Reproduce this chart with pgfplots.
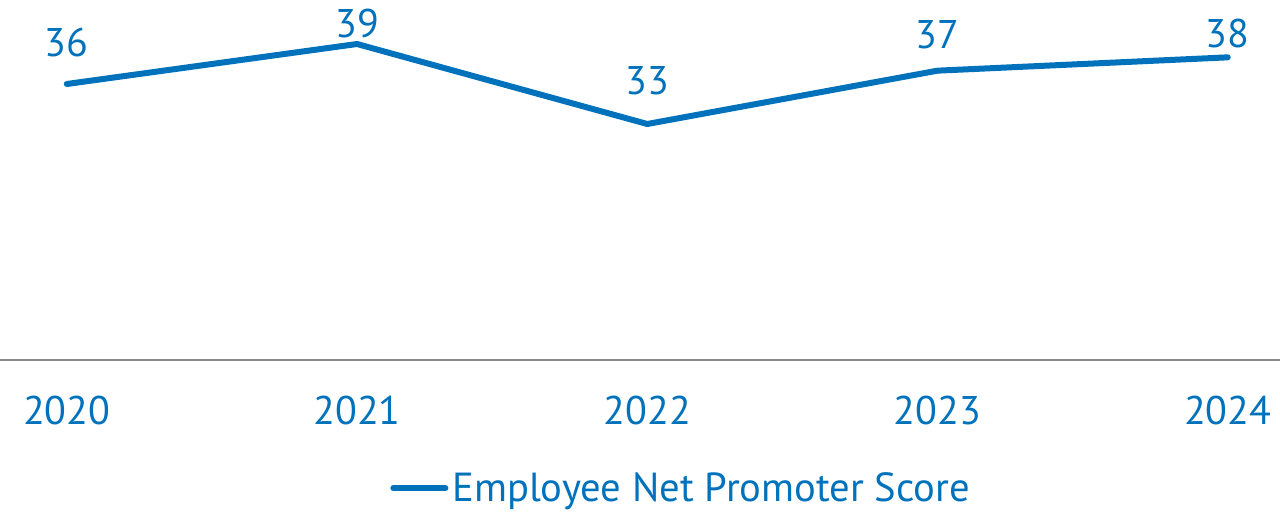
\documentclass[border=0pt]{standalone}
\usepackage{pgfplots}
\pgfplotsset{compat=1.18}
\usepackage{fontspec}
\setmainfont{PT Sans}
\definecolor{nps}{HTML}{0072BC}
\definecolor{base}{HTML}{8A8A8A}
\pgfplotsset{npsleg/.style={legend image code/.code={\draw[#1] (0pt,0pt) -- (26pt,0pt);}}}
\begin{document}
\begin{tikzpicture}
\begin{axis}[
  at={(0pt,0pt)}, anchor=south west,
  scale only axis,
  width=640pt, height=180pt,
  xmin=-0.23, xmax=4.18,
  ymin=15.3, ymax=42.3,
  axis y line=none,
  axis x line*=bottom,
  x axis line style={draw=base, line width=1pt, -},
  xtick={0,1,2,3,4},
  xticklabels={2020,2021,2022,2023,2024},
  major tick length=0pt,
  xticklabel style={font=\fontsize{20}{24}\selectfont, text=nps, anchor=base, yshift=-32pt},
  clip=false,
  /pgf/number format/assume math mode=true,
  legend style={at={(0.533,-0.356)}, anchor=center, draw=none, fill=none,
    font=\fontsize{20.3}{24}\selectfont, text=nps,
    /tikz/every even column/.append style={column sep=0pt}},
  legend cell align=left,
]
\addplot[color=nps, line width=3pt, line cap=round, line join=round, mark=none, npsleg,
  nodes near coords,
  visualization depends on={value \thisrow{dy} \as \labdy},
  every node near coord/.append style={font=\fontsize{20}{24}\selectfont, text=nps, anchor=base, yshift=\labdy pt}]
  table[x=x, y=y] {
x y dy
0 36 14
1 39 3.5
2 33 15
3 37 11
4 38 5
};
\addlegendentry{Employee Net Promoter Score}
\end{axis}
\pgfresetboundingbox
\path (0pt,-77pt) rectangle (640pt,180pt);
\end{tikzpicture}
\end{document}
